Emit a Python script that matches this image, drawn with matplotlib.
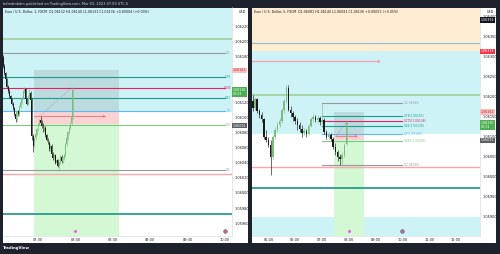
import numpy as np
import matplotlib
matplotlib.use("Agg")
import matplotlib.pyplot as plt
from matplotlib.patches import Rectangle

W, H = 500, 254
FRAME = '#1e222d'
UP = '#7dbb7f'
DOWN = '#1a1a1a'
CYAN = '#cdf3f6'
PEACH = '#ffecd1'

# prices are kept as points above 1.06000 (1 point = 0.00001)
BASE = 1.06

# EUR/USD 1 min, 07:02 .. 07:58
left_open = [180, 168, 158, 150, 140, 135, 128, 124, 118, 112, 104, 97, 108, 104, 114, 120, 126, 134, 137, 124,
             118, 128, 132, 123, 75, 62, 72, 78, 84, 90, 96, 92, 88, 82, 86, 76, 70, 66, 58, 62,
             52, 46, 50, 40, 44, 36, 40, 48, 42, 46, 50, 64, 72, 80, 86, 92, 100]
left_close = [168, 158, 150, 140, 135, 128, 124, 118, 112, 104, 97, 108, 104, 114, 120, 126, 134, 137, 124, 118,
              128, 132, 123, 75, 62, 72, 78, 84, 90, 96, 92, 88, 82, 86, 76, 70, 66, 58, 62, 52,
              46, 50, 40, 44, 36, 40, 48, 42, 46, 50, 64, 72, 80, 86, 92, 100, 136]
left_high = [182, 170, 160, 152, 142, 137, 130, 126, 120, 114, 106, 110, 110, 116, 122, 128, 136, 140, 138, 126,
             130, 137, 134, 125, 78, 72, 80, 86, 92, 98, 101, 96, 92, 90, 88, 78, 72, 68, 64, 64,
             54, 52, 52, 46, 45, 42, 50, 50, 48, 52, 66, 74, 82, 88, 94, 102, 140]
left_low = [165, 156, 148, 138, 132, 126, 122, 116, 110, 102, 94, 95, 102, 102, 112, 118, 124, 132, 122, 116,
            116, 126, 121, 70, 54, 60, 70, 76, 82, 88, 90, 86, 80, 80, 74, 68, 64, 56, 56, 50,
            44, 44, 38, 38, 34, 30, 38, 40, 40, 44, 48, 62, 70, 78, 84, 90, 98]
left_times = np.arange(422, 479)  # minutes after midnight

# EUR/USD 5 min, 04:25 .. 07:55
right_open = [190, 172, 195, 165, 155, 145, 100, 93, 80, 50, 100, 118, 130, 140, 168, 190, 222, 168, 160, 150,
              140, 130, 120, 110, 115, 108, 128, 145, 150, 143, 148, 138, 143, 112, 100, 105, 95, 75, 62, 50,
              45, 55, 81]
right_close = [172, 195, 165, 155, 145, 100, 93, 80, 50, 100, 118, 130, 140, 168, 190, 222, 168, 160, 150, 140,
               130, 120, 110, 115, 108, 128, 145, 150, 143, 148, 138, 143, 112, 100, 105, 95, 75, 62, 50, 45,
               55, 80, 136]
right_high = [205, 198, 197, 170, 163, 148, 118, 100, 93, 105, 125, 138, 148, 172, 195, 228, 230, 178, 165, 155,
              148, 138, 130, 122, 120, 132, 150, 157, 155, 155, 152, 185, 147, 118, 112, 110, 100, 85, 68, 58,
              62, 85, 140]
right_low = [165, 168, 160, 148, 138, 95, 88, 75, 5, 45, 95, 112, 125, 135, 160, 185, 165, 150, 140, 132,
             118, 112, 100, 105, 100, 104, 124, 140, 138, 135, 130, 132, 108, 95, 95, 90, 70, 55, 40, 30,
             30, 50, 80]
right_times = np.arange(265, 480, 5)

# fib retracement 07:00 -> 10:00
fib_names = ['1', '0.79', '0.705', '0.62', '0.5', '0.382', '0']
fib_prices = [1.06185, 1.06153, 1.06139, 1.06126, 1.06108, 1.06090, 1.06030]
fib_colors = ['#9598a1', '#1e9c8a', '#e91e63', '#1e9c8a', '#64b5f6', '#81c784', '#9598a1']
fib_cut = ['1(1.', '0.79', '0.705', '0.62', '0.5', '0.38', '0(1.']  # what the left pane leaves visible
fib_start, fib_end = 420, 600

# zones and horizontal lines
cyan_zones = [(1.06107, 1.06313), (1.0570, 1.05900)]
peach_zone = (1.06313, 1.0660)
full_lines = [(1.06204, '#a5d6a7', 1.4), (1.06025, '#f7a8a8', 1.0), (1.05972, '#2a9d8f', 1.3)]
blue_line = 1.06335
pink_ray = (1.06288, 545)

# position tool
pos_x = (447, 515)
pos_gray = (1.06108, 1.06162)
pos_pink = (1.06091, 1.06108)
pos_green = (1.0570, 1.06091)
arrow_y, arrow_x = 1.06101, (445, 507)
dash_pts = ([451, 477], [1.06101, 1.06139])

left_ticks = [1.05960, 1.05980, 1.06000, 1.06020, 1.06040, 1.06060, 1.06080, 1.06100, 1.06120,
              1.06180, 1.06200, 1.06220]
right_ticks = [1.05900, 1.05950, 1.06000, 1.06050, 1.06100, 1.06150, 1.06200, 1.06250, 1.06300,
               1.06350, 1.06400]


def rect(x0, y0, x1, y1):
    return [x0 / W, 1 - y1 / H, (x1 - x0) / W, (y1 - y0) / H]


def pts(v):
    return BASE + np.asarray(v, dtype=float) / 1e5


def draw_candles(ax, times, o, h, l, c, width):
    o, h, l, c = pts(o), pts(h), pts(l), pts(c)
    colors = np.where(c >= o, UP, DOWN)
    ax.vlines(times, l, h, colors=colors, lw=0.45, zorder=5)
    bottom = np.minimum(o, c)
    height = np.maximum(np.abs(c - o), 0.000012)
    ax.bar(times, height, width, bottom=bottom, color=colors, linewidth=0, zorder=6)


def price_label(ax, y, text, fc, tc, dy=0.0):
    ax.text(1.004, y + dy, text, transform=ax.get_yaxis_transform(), ha='left', va='center',
            fontsize=2.3, color=tc, zorder=10, linespacing=1.0,
            bbox=dict(boxstyle='square,pad=0.25', fc=fc, ec='none'))


def setup(ax, xlim, ylim, yticks, xticks, xlabels, header, short_fib):
    ax.set_xlim(*xlim)
    ax.set_ylim(*ylim)
    ax.set_facecolor('white')
    ax.yaxis.tick_right()
    ax.set_yticks(yticks)
    ax.set_yticklabels(['%.5f' % v for v in yticks])
    ax.set_xticks(xticks)
    ax.set_xticklabels(xlabels)
    ax.tick_params(axis='both', length=0, labelsize=2.5, labelcolor='#131722')
    ax.tick_params(axis='y', pad=1.6)
    ax.tick_params(axis='x', pad=1.4)
    for s in ['left', 'top']:
        ax.spines[s].set_visible(False)
    for s in ['right', 'bottom']:
        ax.spines[s].set_color('#d1d4dc')
        ax.spines[s].set_linewidth(0.4)
    ax.text(1.03, 0.982, 'USD', transform=ax.transAxes, fontsize=2.4, color='#131722', va='center')
    ax.text(0.01, 0.982, header, transform=ax.transAxes, fontsize=2.3, color='#131722', va='center')

    # background zones
    for lo, hi in cyan_zones:
        ax.axhspan(lo, hi, color=CYAN, lw=0, zorder=0.5)
    ax.axhspan(*peach_zone, color=PEACH, lw=0, zorder=0.5)
    for y, col, lw in full_lines:
        ax.axhline(y, color=col, lw=lw, zorder=3)
    ax.axhline(blue_line, color='#8fbfe0', lw=0.9, zorder=3)
    ax.plot([xlim[0], pink_ray[1]], [pink_ray[0]] * 2, color='#f5a3b3', lw=0.9, zorder=3)
    ax.plot(pink_ray[1], pink_ray[0], 'o', ms=1.2, color='#f5a3b3', zorder=3)

    # position tool
    w = pos_x[1] - pos_x[0]
    ax.add_patch(Rectangle((pos_x[0], pos_gray[0]), w, pos_gray[1] - pos_gray[0],
                           fc='#787b86', alpha=0.2, lw=0, zorder=2))
    ax.add_patch(Rectangle((pos_x[0], pos_pink[0]), w, pos_pink[1] - pos_pink[0],
                           fc='#f9d2d4', lw=0, zorder=2))
    ax.add_patch(Rectangle((pos_x[0], pos_green[0]), w, pos_green[1] - pos_green[0],
                           fc='#d3f8d3', lw=0, zorder=2))
    ax.annotate('', xy=(arrow_x[1], arrow_y), xytext=(arrow_x[0], arrow_y),
                arrowprops=dict(arrowstyle='-|>', color='#f7787f', lw=0.7, mutation_scale=3), zorder=4)
    ax.plot(*dash_pts, color='#9598a1', lw=0.4, ls=(0, (2, 2)), zorder=4)

    # fib levels
    ytr = ax.get_yaxis_transform()
    for name, cut, y, col in zip(fib_names, fib_cut, fib_prices, fib_colors):
        ax.plot([fib_start, fib_end], [y, y], color=col, lw=0.8, zorder=3)
        if short_fib:
            ax.text(0.997, y, cut, transform=ytr, fontsize=2.0, color=col,
                    va='center', ha='right', zorder=4)
        else:
            ax.text(fib_end + 2, y, '%s(%.5f)' % (name, y), fontsize=2.1, color=col,
                    va='center', ha='left', zorder=4)

    # event markers on the time scale
    tr = ax.get_xaxis_transform()
    ax.plot(480, 0.02, 'o', ms=2.6, color='#d66bd8', mec='white', mew=0.3, transform=tr, zorder=8)
    ax.plot(600, 0.02, 'o', ms=2.6, color='#e8605c', mec='#3f6fc0', mew=0.5, transform=tr, zorder=8)


fig = plt.figure(figsize=(W / 100, H / 100), dpi=100, facecolor=FRAME)

for x0, x1 in [(3, 248), (252, 496)]:
    fig.add_artist(Rectangle((x0 / W, 1 - 243 / H), (x1 - x0) / W, 235.5 / H,
                             transform=fig.transFigure, fc='white', ec='none', zorder=0))

fig.text(3 / W, 1 - 4 / H, 'bdmdmbdm published on TradingView.com, Mar 03, 2023 07:09 UTC-5',
         fontsize=2.5, color='#d1d4dc', va='center')
fig.text(3 / W, 1 - 248.5 / H, 'TradingView', fontsize=2.8, color='white', va='center', weight='bold')

# left panel: 1 minute
axl = fig.add_axes(rect(3, 7.5, 232, 236))
setup(axl, (421.86, 605.9), (1.05943, 1.06245), left_ticks,
      [450, 480, 510, 540, 570, 600], ['07:30', '08:00', '08:30', '09:00', '09:30', '10:00'],
      'Euro / U.S. Dollar, 1, FXCM  O1.06132 H1.06140 L1.06131 C1.06136 +0.00004 (+0.00%)', True)
draw_candles(axl, left_times, left_open, left_high, left_low, left_close, 0.75)
price_label(axl, 1.06162, '1.06162', '#f9c0c0', '#c62828')
price_label(axl, 1.06136, '1.06136\n00:53', '#4caf50', 'white', dy=-0.00003)
price_label(axl, 1.06089, '1.06091', '#5d606b', 'white')

# right panel: 5 minutes
axr = fig.add_axes(rect(252, 7.5, 480, 236))
setup(axr, (263.3, 773.7), (1.058525, 1.064225), right_ticks,
      [300, 360, 420, 480, 540, 600, 660, 720],
      ['05:00', '06:00', '07:00', '08:00', '09:00', '10:00', '11:00', '12:00'],
      'Euro / U.S. Dollar, 5, FXCM  O1.06081 H1.06140 L1.06081 C1.06136 +0.00055 (+0.05%)', False)
draw_candles(axr, right_times, right_open, right_high, right_low, right_close, 3.4)
price_label(axr, 1.06392, '1.06392', '#131722', 'white')
price_label(axr, 1.06313, '1.06313', '#f23645', 'white')
price_label(axr, 1.06162, '1.06162', '#f9c0c0', '#c62828')
price_label(axr, 1.06136, '1.06136\n00:51', '#4caf50', 'white', dy=-0.00006)
price_label(axr, 1.06091, '1.06091', '#5d606b', 'white')

fig.savefig('out.png', dpi=100, facecolor=FRAME)
